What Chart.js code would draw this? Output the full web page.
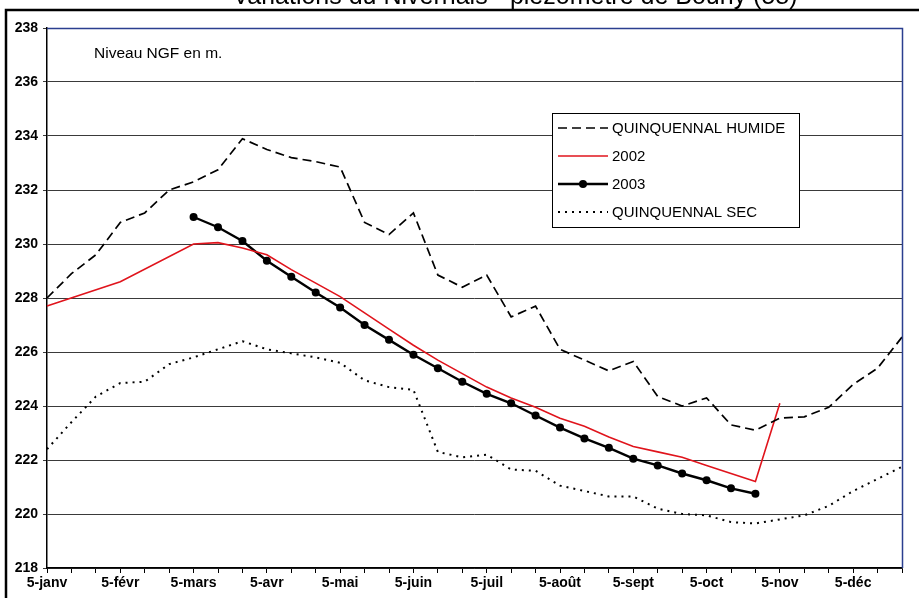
<!DOCTYPE html>
<html>
<head>
<meta charset="utf-8">
<script src="https://cdn.jsdelivr.net/npm/chart.js@4/dist/chart.umd.min.js"></script>
<style>
  html, body { margin: 0; padding: 0; background: #ffffff; overflow: hidden; }
  #wrap { position: relative; width: 919px; height: 598px; }
  canvas { display: block; }
</style>
</head>
<body>
<div id="wrap"><canvas id="c" width="919" height="598"></canvas></div>
<script>
const titleText = "Variations du Nivernais - piézomètre de Bouhy (58)";
const unitNote = "Niveau NGF en m.";

const categories = [
  "5-janv","15-janv","25-janv","5-févr","15-févr","25-févr",
  "5-mars","15-mars","25-mars","5-avr","15-avr","25-avr",
  "5-mai","15-mai","25-mai","5-juin","15-juin","25-juin",
  "5-juil","15-juil","25-juil","5-août","15-août","25-août",
  "5-sept","15-sept","25-sept","5-oct","15-oct","25-oct",
  "5-nov","15-nov","25-nov","5-déc","15-déc","25-déc"
];

const quinquennalHumide = [
  228.0, 228.9, 229.6, 230.8, 231.15, 232.0,
  232.3, 232.75, 233.9, 233.5, 233.2, 233.05,
  232.85, 230.8, 230.35, 231.15, 228.85, 228.4,
  228.85, 227.3, 227.7, 226.1, 225.7, 225.3,
  225.65, 224.35, 224.0, 224.3, 223.3, 223.1,
  223.55, 223.6, 223.95, 224.8, 225.4, 226.55
];

const annee2002 = [
  227.7, null, null, 228.6, null, null,
  230.0, 230.05, 229.85, 229.6, 229.05, 228.55,
  228.05, 227.45, 226.85, 226.25, 225.7, 225.2,
  224.7, 224.3, 223.95, 223.55, 223.25, 222.85,
  222.5, 222.3, 222.1, 221.8, 221.5, 221.2,
  224.1, null, null, null, null, null
];

const annee2003 = [
  null, null, null, null, null, null,
  231.0, 230.62, 230.11, 229.38, 228.79, 228.2,
  227.65, 227.0, 226.45, 225.9, 225.4, 224.9,
  224.45, 224.1, 223.65, 223.2, 222.8, 222.45,
  222.05, 221.8, 221.5, 221.25, 220.95, 220.75,
  null, null, null, null, null, null
];

const quinquennalSec = [
  222.4, 223.4, 224.35, 224.85, 224.9, 225.55,
  225.8, 226.1, 226.4, 226.1, 225.95, 225.8,
  225.6, 224.95, 224.7, 224.6, 222.3, 222.1,
  222.2, 221.65, 221.6, 221.05, 220.85, 220.65,
  220.65, 220.2, 220.0, 219.95, 219.7, 219.65,
  219.8, 219.95, 220.3, 220.85, 221.3, 221.75
];

const seriesLabels = ["QUINQUENNAL HUMIDE", "2002", "2003", "QUINQUENNAL SEC"];
const yMin = 218, yMax = 238, yStep = 2;

const decorPlugin = {
  id: 'decor',
  beforeDraw(chart) {
    const ctx = chart.ctx;
    ctx.save();
    ctx.fillStyle = '#ffffff';
    ctx.fillRect(0, 0, chart.width, chart.height);
    ctx.restore();
  },
  afterDatasetsDraw(chart) {
    const ctx = chart.ctx;
    const a = chart.chartArea;
    ctx.save();
    ctx.strokeStyle = '#2b3f8f';
    ctx.lineWidth = 1.5;
    ctx.beginPath();
    ctx.moveTo(a.left, a.top + 0.5);
    ctx.lineTo(a.right + 0.5, a.top + 0.5);
    ctx.lineTo(a.right + 0.5, a.bottom);
    ctx.stroke();

    ctx.strokeStyle = '#000000';
    ctx.lineWidth = 2.5;
    ctx.beginPath();
    ctx.moveTo(6, chart.height);
    ctx.lineTo(6, 10);
    ctx.lineTo(chart.width, 10);
    ctx.stroke();

    ctx.fillStyle = '#000000';
    ctx.font = '25px "Liberation Sans", Arial, sans-serif';
    ctx.textAlign = 'center';
    ctx.textBaseline = 'alphabetic';
    ctx.fillText(titleText, 515, 4);

    ctx.font = '15.5px "Liberation Sans", Arial, sans-serif';
    ctx.textAlign = 'left';
    ctx.textBaseline = 'middle';
    ctx.fillText(unitNote, 94, 54);

    const bx = 552, by = 113, bw = 247, bh = 114;
    ctx.fillStyle = '#ffffff';
    ctx.fillRect(bx, by, bw, bh);
    ctx.strokeStyle = '#000000';
    ctx.lineWidth = 1;
    ctx.strokeRect(bx + 0.5, by + 0.5, bw, bh);
    chart.data.datasets.forEach((ds, i) => {
      const yy = 128 + i * 28;
      ctx.save();
      ctx.strokeStyle = ds.borderColor;
      ctx.lineWidth = ds.borderWidth;
      ctx.setLineDash(ds.borderDash || []);
      ctx.beginPath();
      ctx.moveTo(558, yy);
      ctx.lineTo(608, yy);
      ctx.stroke();
      ctx.restore();
      if (ds.pointRadius > 0) {
        ctx.beginPath();
        ctx.fillStyle = ds.pointBackgroundColor;
        ctx.arc(583, yy, ds.pointRadius, 0, Math.PI * 2);
        ctx.fill();
      }
      ctx.fillStyle = '#000000';
      ctx.font = '15px "Liberation Sans", Arial, sans-serif';
      ctx.textAlign = 'left';
      ctx.textBaseline = 'middle';
      ctx.fillText(ds.label, 612, yy + 1);
    });
    ctx.restore();
  }
};

new Chart(document.getElementById('c'), {
  type: 'line',
  data: {
    labels: categories,
    datasets: [
      {
        label: seriesLabels[0],
        data: quinquennalHumide,
        borderColor: '#000000',
        borderWidth: 1.7,
        borderDash: [9, 5],
        pointRadius: 0,
        tension: 0,
        fill: false
      },
      {
        label: seriesLabels[1],
        data: annee2002,
        borderColor: '#e0141c',
        borderWidth: 1.6,
        pointRadius: 0,
        spanGaps: true,
        tension: 0,
        fill: false
      },
      {
        label: seriesLabels[2],
        data: annee2003,
        borderColor: '#000000',
        borderWidth: 2.4,
        pointRadius: 4,
        pointBackgroundColor: '#000000',
        pointBorderColor: '#000000',
        pointBorderWidth: 0,
        tension: 0,
        fill: false
      },
      {
        label: seriesLabels[3],
        data: quinquennalSec,
        borderColor: '#000000',
        borderWidth: 2,
        borderDash: [2, 5],
        pointRadius: 0,
        tension: 0,
        fill: false
      }
    ]
  },
  options: {
    responsive: false,
    devicePixelRatio: 1,
    animation: false,
    layout: { padding: { left: 0, top: 28, right: 17, bottom: 0 }, autoPadding: false },
    plugins: {
      legend: { display: false },
      title: { display: false },
      tooltip: { enabled: false }
    },
    scales: {
      x: {
        type: 'category',
        offset: false,
        afterFit(scale) { scale.height = 30; },
        grid: { display: true, drawOnChartArea: false, drawTicks: true, tickLength: 5, color: '#000000', lineWidth: 1 },
        border: { display: true, color: '#000000', width: 1.5 },
        ticks: {
          autoSkip: false,
          maxRotation: 0,
          minRotation: 0,
          padding: 2,
          color: '#000000',
          font: { family: '"Liberation Sans", Arial, sans-serif', size: 14, weight: 'bold' },
          callback(value, index) { return index % 3 === 0 ? categories[index] : ''; }
        }
      },
      y: {
        min: yMin,
        max: yMax,
        afterFit(scale) { scale.width = 47; },
        grid: { display: true, drawOnChartArea: true, drawTicks: true, tickLength: 4, color: '#3a3a3a', lineWidth: 1 },
        border: { display: true, color: '#000000', width: 1.5 },
        ticks: {
          stepSize: yStep,
          padding: 5,
          color: '#000000',
          font: { family: '"Liberation Sans", Arial, sans-serif', size: 14, weight: 'bold' }
        }
      }
    }
  },
  plugins: [decorPlugin]
});
</script>
</body>
</html>
